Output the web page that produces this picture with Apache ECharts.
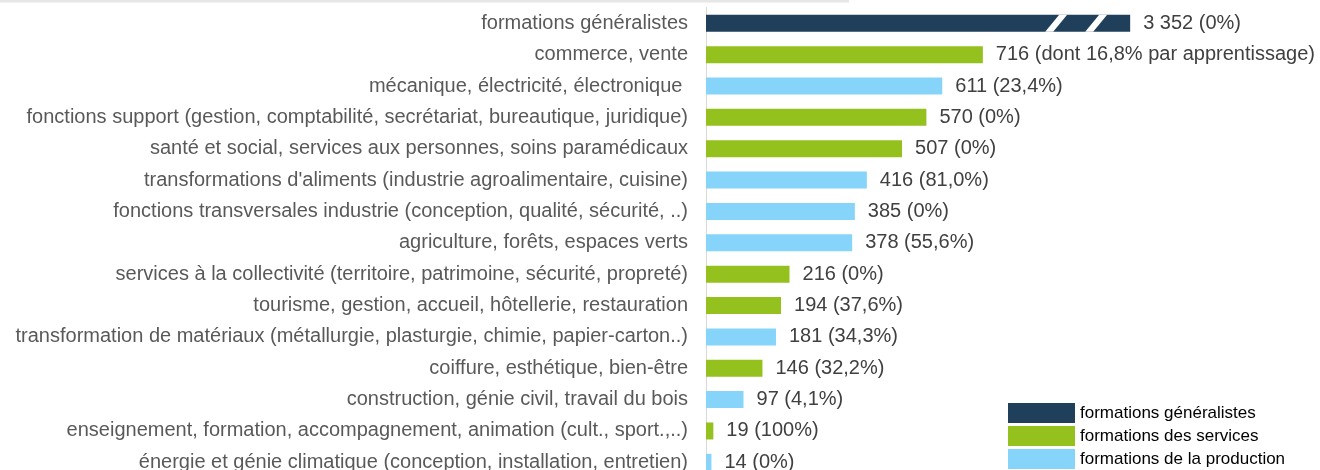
<!DOCTYPE html>
<html>
<head>
<meta charset="utf-8">
<script src="https://cdn.jsdelivr.net/npm/echarts@6/dist/echarts.min.js"></script>
<style>
  html, body { margin: 0; padding: 0; background: #fff; }
  #chart { width: 1320px; height: 470px; }
</style>
</head>
<body>
<div id="chart"></div>
<script>
const categories = [
  'formations généralistes',
  'commerce, vente',
  'mécanique, électricité, électronique ',
  'fonctions support (gestion, comptabilité, secrétariat, bureautique, juridique)',
  'santé et social, services aux personnes, soins paramédicaux',
  "transformations d'aliments (industrie agroalimentaire, cuisine)",
  'fonctions transversales industrie (conception, qualité, sécurité, ..)',
  'agriculture, forêts, espaces verts',
  'services à la collectivité (territoire, patrimoine, sécurité, propreté)',
  'tourisme, gestion, accueil, hôtellerie, restauration',
  'transformation de matériaux (métallurgie, plasturgie, chimie, papier-carton..)',
  'coiffure, esthétique, bien-être',
  'construction, génie civil, travail du bois',
  'enseignement, formation, accompagnement, animation (cult., sport.,..)',
  'énergie et génie climatique (conception, installation, entretien)'
]
const values = [3352, 716, 611, 570, 507, 416, 385, 378, 216, 194, 181, 146, 97, 19, 14]
const shares = ['0%', 'dont 16,8% par apprentissage', '23,4%', '0%', '0%', '81,0%', '0%', '55,6%',
  '0%', '37,6%', '34,3%', '32,2%', '4,1%', '100%', '0%']
const groups = ['gen', 'serv', 'prod', 'serv', 'serv', 'prod', 'prod', 'prod',
  'serv', 'serv', 'prod', 'serv', 'prod', 'serv', 'prod']

const groupNames = {
  gen: 'formations généralistes',
  serv: 'formations des services',
  prod: 'formations de la production'
}
const groupColors = { gen: '#1f3f5a', serv: '#95c11f', prod: '#87d4fa' }

// axis break for the first (very long) bar
const breakStart = 1000
const breakEnd = 3255
const axisMax = 1500 + (breakEnd - breakStart)

const fmt = v => String(v).replace(/\B(?=(\d{3})+(?!\d))/g, ' ')

const el = document.getElementById('chart')
const chart = echarts.init(el)

const series = Object.keys(groupNames).map(g => ({
  name: groupNames[g],
  type: 'bar',
  stack: 'all',
  barWidth: 17,
  itemStyle: { color: groupColors[g] },
  label: {
    show: true,
    position: 'right',
    distance: 13,
    fontSize: 20,
    color: '#404040',
    fontFamily: 'Liberation Sans, Arial, sans-serif',
    formatter: p => fmt(values[p.dataIndex]) + ' (' + shares[p.dataIndex] + ')'
  },
  data: values.map((v, i) => groups[i] === g ? v : '-')
}))

// white slashes marking the broken bar
series.push({
  type: 'custom',
  silent: true,
  z: 5,
  renderItem: (params, api) => {
    const p = api.coord([api.value(0), api.value(1)])
    const x = p[0]
    const top = p[1] - 8.5
    const bot = p[1] + 8.5
    const slash = (b0, b1, t0, t1) => ({
      type: 'polygon',
      shape: { points: [[x + b0, bot], [x + b1, bot], [x + t1, top], [x + t0, top]] },
      style: { fill: '#fff' }
    })
    return { type: 'group', children: [slash(-85, -77, -71, -63), slash(-45, -37, -31, -23)] }
  },
  data: values.map((v, i) => v > breakEnd ? [v, i] : null).filter(d => d)
})

chart.setOption({
  animation: false,
  graphic: [{
    type: 'rect',
    left: 0, top: 0,
    shape: { width: 849, height: 2.5 },
    style: { fill: '#e6e6e6' }
  }],
  grid: { left: 706, right: 34, top: 7.6, height: 470.4, outerBoundsMode: 'none', containLabel: false },
  legend: {
    orient: 'vertical',
    left: 1008,
    top: 403,
    padding: 0,
    icon: 'rect',
    itemWidth: 67,
    itemHeight: 20,
    itemGap: 3,
    selectedMode: false,
    textStyle: { fontSize: 17, color: '#000', fontFamily: 'Liberation Sans, Arial, sans-serif' },
    data: Object.values(groupNames)
  },
  xAxis: {
    type: 'value',
    min: 0,
    max: axisMax,
    breaks: [{ start: breakStart, end: breakEnd, gap: 0 }],
    breakArea: { show: false },
    axisLine: { show: false },
    axisTick: { show: false },
    axisLabel: { show: false },
    splitLine: { show: false }
  },
  yAxis: {
    type: 'category',
    inverse: true,
    data: categories,
    axisLine: { show: true, lineStyle: { color: '#d9d9d9', width: 1 } },
    axisTick: { show: false },
    axisLabel: {
      margin: 18,
      fontSize: 20,
      color: '#595959',
      fontFamily: 'Liberation Sans, Arial, sans-serif'
    }
  },
  series: series
})
</script>
</body>
</html>
